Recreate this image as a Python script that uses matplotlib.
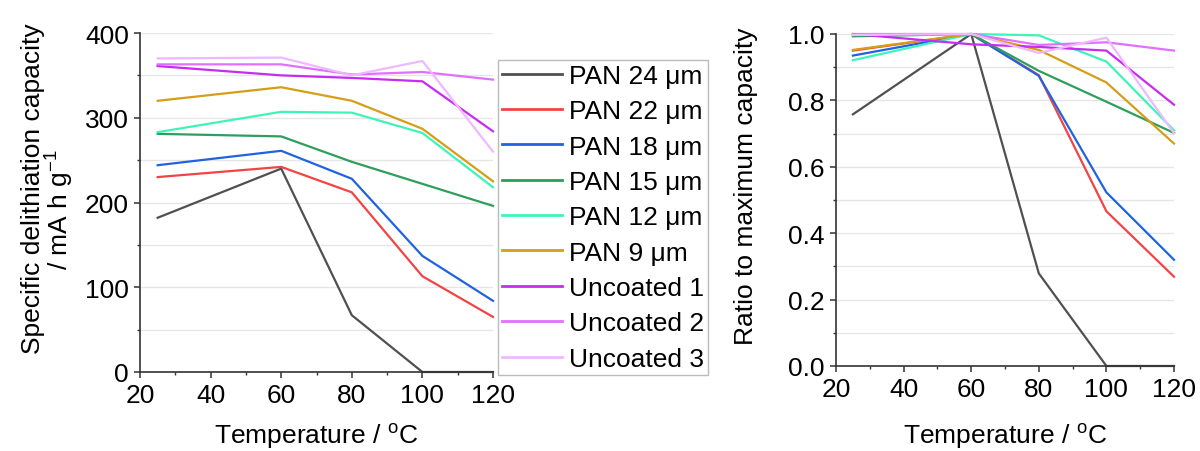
import numpy as np
import matplotlib.pyplot as plt

plt.rcParams['font.family'] = ['Liberation Sans', 'DejaVu Sans']
plt.rcParams['mathtext.fontset'] = 'custom'
plt.rcParams['mathtext.rm'] = 'Liberation Sans'
plt.rcParams['mathtext.default'] = 'regular'

temps = [25, 60, 80, 100, 120]

labels = ['PAN 24 μm', 'PAN 22 μm', 'PAN 18 μm', 'PAN 15 μm', 'PAN 12 μm',
          'PAN 9 μm', 'Uncoated 1', 'Uncoated 2', 'Uncoated 3']
colors = ['#505050', '#f24444', '#1f63e0', '#2e9e5b', '#3df5b8',
          '#d49e17', '#c62cf2', '#e070ff', '#f0b8ff']

# specific delithiation capacity, mA h g-1
cap_pan24 = [182, 240, 67, 0, 0]
cap_pan22 = [230, 242, 212, 113, 65]
cap_pan18 = [244, 261, 228, 137, 84]
cap_pan15 = [281, 278, 248, 222, 196]
cap_pan12 = [283, 307, 306, 282, 218]
cap_pan9 = [320, 336, 320, 287, 225]
cap_unc1 = [361, 350, 347, 343, 284]
cap_unc2 = [363, 363, 351, 354, 345]
cap_unc3 = [370, 371, 350, 367, 260]

# ratio to maximum capacity
rat_pan24 = [0.758, 1.0, 0.279, 0.0, 0.0]
rat_pan22 = [0.950, 1.0, 0.876, 0.466, 0.269]
rat_pan18 = [0.935, 1.0, 0.874, 0.523, 0.320]
rat_pan15 = [0.993, 1.0, 0.889, 0.796, 0.702]
rat_pan12 = [0.921, 1.0, 0.996, 0.917, 0.710]
rat_pan9 = [0.952, 1.0, 0.952, 0.854, 0.670]
rat_unc1 = [1.0, 0.969, 0.961, 0.950, 0.787]
rat_unc2 = [1.0, 1.0, 0.967, 0.975, 0.950]
rat_unc3 = [0.997, 1.0, 0.943, 0.989, 0.701]

caps = [cap_pan24, cap_pan22, cap_pan18, cap_pan15, cap_pan12, cap_pan9, cap_unc1, cap_unc2, cap_unc3]
rats = [rat_pan24, rat_pan22, rat_pan18, rat_pan15, rat_pan12, rat_pan9, rat_unc1, rat_unc2, rat_unc3]

W, H = 1200, 452
fs = 19

fig = plt.figure(figsize=(12, 4.52), dpi=100)
ax1 = fig.add_axes([140 / W, 1 - 373 / H, 353 / W, 339 / H])
ax2 = fig.add_axes([836 / W, 1 - 367 / H, 338 / W, 332 / H])

def style(ax):
    ax.spines['top'].set_visible(False)
    ax.spines['right'].set_visible(False)
    for s in ['left', 'bottom']:
        ax.spines[s].set_linewidth(1.2)
        ax.spines[s].set_color('#333333')
    ax.tick_params(which='major', direction='out', length=4, width=1.1, labelsize=fs, pad=4, color='#333333')
    ax.tick_params(which='minor', direction='out', length=2.5, width=1.0, color='#333333')
    ax.set_xlim(20, 120)
    ax.set_xticks(np.arange(20, 121, 20))
    ax.set_xticks(np.arange(30, 120, 20), minor=True)
    ax.grid(axis='y', which='both', color='#e6e6e6', linewidth=1.0)
    ax.set_axisbelow(True)

for y, lab, c in zip(caps, labels, colors):
    ax1.plot(temps, y, color=c, lw=1.6, label=lab, clip_on=False)
style(ax1)
ax1.set_ylim(0, 400)
ax1.set_yticks(np.arange(0, 401, 100))
ax1.set_yticks(np.arange(50, 400, 100), minor=True)

for y, lab, c in zip(rats, labels, colors):
    ax2.plot(temps, y, color=c, lw=1.6, clip_on=False)
style(ax2)
ax2.set_ylim(0, 1.0)
ax2.set_yticks(np.arange(0, 1.01, 0.2))
ax2.set_yticklabels(['0.0', '0.2', '0.4', '0.6', '0.8', '1.0'])
ax2.set_yticks(np.arange(0.1, 1.0, 0.2), minor=True)

# axis titles
fig.text(33 / W, 1 - 189 / H, 'Specific delithiation capacity', rotation=90,
         ha='center', va='center', fontsize=fs)
fig.text(60 / W, 1 - 210 / H, '/ mA h g$^{-1}$', rotation=90,
         ha='center', va='center', fontsize=fs)
fig.text(746 / W, 1 - 186 / H, 'Ratio to maximum capacity', rotation=90,
         ha='center', va='center', fontsize=fs)
fig.text(316 / W, 1 - 437 / H, 'Temperature / $^{o}$C', ha='center', va='center', fontsize=fs)
fig.text(1005 / W, 1 - 437 / H, 'Temperature / $^{o}$C', ha='center', va='center', fontsize=fs)

leg = ax1.legend(loc='upper left', bbox_to_anchor=(498 / W, 1 - 61 / H),
                 bbox_transform=fig.transFigure, fontsize=fs, frameon=True, fancybox=False,
                 edgecolor='#aaaaaa', handlelength=2.27, handletextpad=0.27,
                 labelspacing=0.43, borderpad=0.15, borderaxespad=0)
leg.get_frame().set_linewidth(1.0)
for line in leg.get_lines():
    line.set_linewidth(2.0)

fig.savefig('out.png', dpi=100)
